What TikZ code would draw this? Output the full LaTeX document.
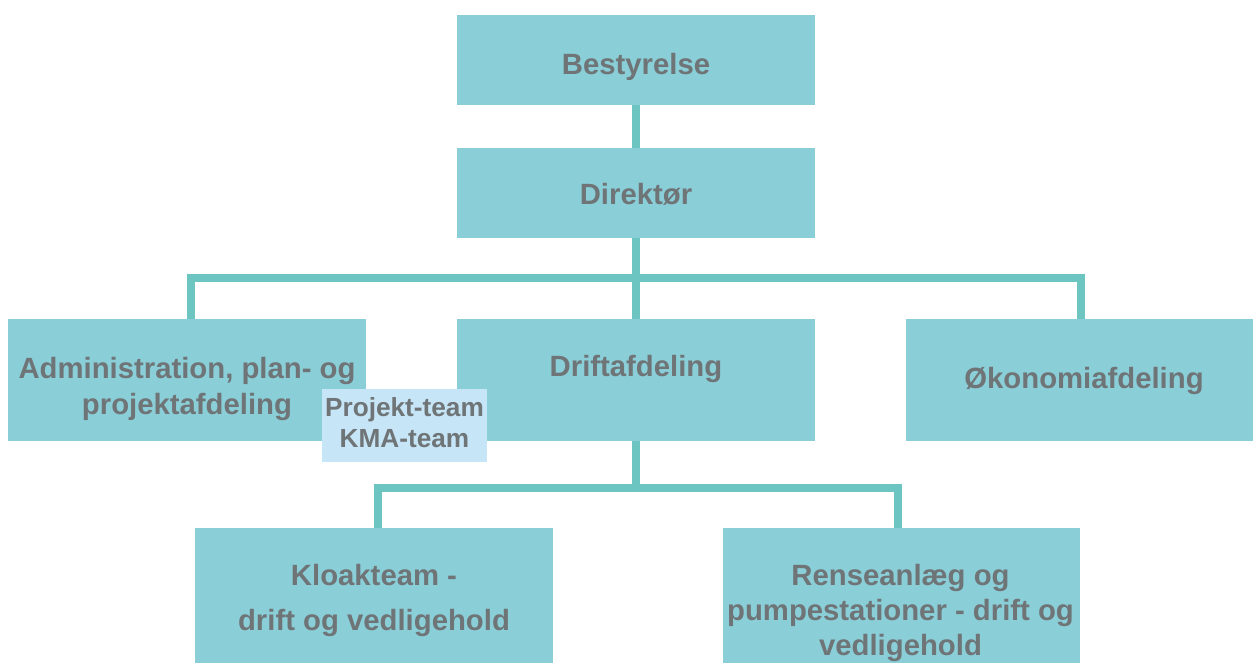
\documentclass[tikz,border=0pt]{standalone}
\usepackage{fontspec}
\setmainfont{Liberation Sans}
\usetikzlibrary{backgrounds}
\definecolor{boxfill}{HTML}{8ACED8}
\definecolor{linecol}{HTML}{6CC5C0}
\definecolor{txtcol}{HTML}{6F7477}
\definecolor{kmafill}{HTML}{C6E5F6}
\tikzset{
  orgbox/.style={fill=boxfill, draw=none, inner sep=0pt, outer sep=0pt},
  kmabox/.style={fill=kmafill, draw=none, inner sep=0pt, outer sep=0pt},
  lbl/.style={anchor=base, inner sep=0pt, text=txtcol, font=\fontsize{29.3}{34}\selectfont\bfseries},
  slbl/.style={anchor=base, inner sep=0pt, text=txtcol, font=\fontsize{26.2}{31}\selectfont\bfseries},
  conn/.style={draw=linecol, line width=8pt, line join=miter, line cap=butt}
}
\begin{document}
\begin{tikzpicture}[x=1pt,y=-1pt]
\useasboundingbox (0,0) rectangle (1253,663);
% boxes
\node[orgbox, minimum width=358pt, minimum height=90pt] (best) at (636,60) {};
\node[orgbox, minimum width=358pt, minimum height=90pt] (dir) at (636,193) {};
\node[orgbox, minimum width=358pt, minimum height=122pt] (adm) at (187,380) {};
\node[orgbox, minimum width=358pt, minimum height=122pt] (drift) at (636,380) {};
\node[orgbox, minimum width=347pt, minimum height=122pt] (oek) at (1079.5,380) {};
\node[orgbox, minimum width=358pt, minimum height=135pt] (kloak) at (374,595.5) {};
\node[orgbox, minimum width=357pt, minimum height=135pt] (rense) at (901.5,595.5) {};
\node[kmabox, minimum width=165pt, minimum height=73pt] (kma) at (404.5,425.5) {};
% connectors
\coordinate (j1L) at (191,278);
\coordinate (j1R) at (1081,278);
\coordinate (j2L) at (378,488);
\coordinate (j2R) at (898,488);
\begin{scope}[on background layer]
\draw[conn] (best.south) -- (dir.north);
\draw[conn] (dir.south) -- (drift.north);
\draw[conn] (j1L |- adm.north) -- (j1L) -- (j1R) -- (j1R |- oek.north);
\draw[conn] (drift.south) -- (drift.south |- j2L);
\draw[conn] (j2L |- kloak.north) -- (j2L) -- (j2R) -- (j2R |- rense.north);
\end{scope}
% texts
\node[lbl] (tbest) at (636,74.5) {Bestyrelse};
\node[lbl] (tdir) at (636,205) {Direktør};
\node[lbl] (tadm1) at (187,378) {Administration, plan- og};
\node[lbl] (tadm2) at (187,414) {projektafdeling};
\node[lbl] (tdrift) at (636,376) {Driftafdeling};
\node[lbl] (toek) at (1084,388) {Økonomiafdeling};
\node[slbl] (tkma1) at (404.5,416) {Projekt-team};
\node[slbl] (tkma2) at (404.5,447) {KMA-team};
\node[lbl] (tklo1) at (374,585) {Kloakteam -};
\node[lbl] (tklo2) at (374,630) {drift og vedligehold};
\node[lbl] (tren1) at (900.5,585) {Renseanlæg og};
\node[lbl] (tren2) at (900.5,620) {pumpestationer - drift og};
\node[lbl] (tren3) at (900.5,655) {vedligehold};
\end{tikzpicture}
\end{document}
